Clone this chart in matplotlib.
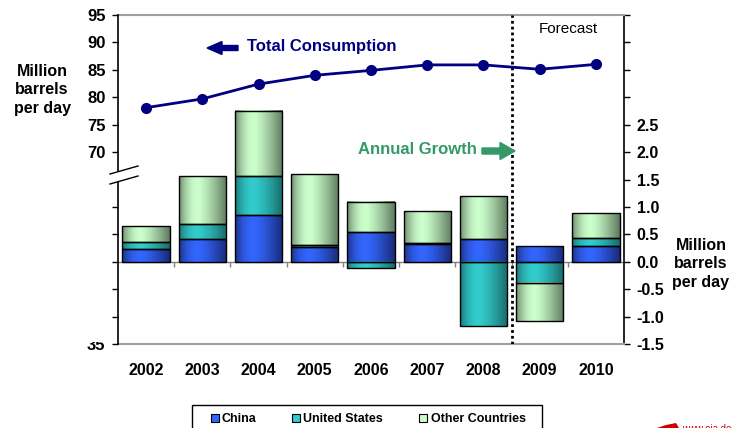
import numpy as np
import matplotlib.pyplot as plt
from matplotlib.patches import Rectangle, FancyArrow, Polygon
from matplotlib.lines import Line2D
from matplotlib.transforms import Affine2D

plt.rcParams['font.family'] = ['Liberation Sans', 'DejaVu Sans']

# data
years = ['2002', '2003', '2004', '2005', '2006', '2007', '2008', '2009', '2010']
consumption = [78.1, 79.7, 82.4, 84.0, 84.9, 85.9, 85.9, 85.1, 86.0]   # million b/d (left axis)
china = [0.24, 0.42, 0.86, 0.26, 0.54, 0.33, 0.41, 0.28, 0.28]         # growth, million b/d (right axis)
us = [0.12, 0.27, 0.70, 0.05, -0.12, 0.02, -1.17, -0.38, 0.15]
other = [0.29, 0.87, 1.19, 1.29, 0.55, 0.57, 0.78, -0.70, 0.45]

names = ['China', 'United States', 'Other Countries']
light = ['#3366FF', '#33CCCC', '#CCFFCC']
dark = ['#1A2A78', '#176B6B', '#5F7A5F']

W, H = 732, 428
fig = plt.figure(figsize=(W / 100, H / 100), dpi=100)
px = Affine2D().scale(1 / W, 1 / H) + fig.transFigure   # pixel coords, origin bottom-left


def fy(y):
    return H - y


ax = fig.add_axes([118 / W, 1 - 344 / H, (624 - 118) / W, (344 - 15) / H])
ax2 = ax.twinx()


def gradient(c_light, c_dark, n=64):
    # cylinder-like shading: dark edges, highlight left of centre
    t = np.linspace(0, 1, n)
    p = np.where(t < 0.4, 1 - 0.85 * ((0.4 - t) / 0.4) ** 2, 1 - ((t - 0.4) / 0.6) ** 1.3)
    lo = np.array(plt.matplotlib.colors.to_rgb(c_dark))
    hi = np.array(plt.matplotlib.colors.to_rgb(c_light))
    return (lo + (hi - lo) * p[:, None])[None, :, :]


# stacked bars (positives up, negatives down like Excel)
x = np.arange(len(years))
width = 0.84
pos_base = np.zeros(len(x))
neg_base = np.zeros(len(x))
for vals, cl, cd in zip([china, us, other], light, dark):
    vals = np.array(vals)
    bottoms = np.where(vals >= 0, pos_base, neg_base)
    grad = gradient(cl, cd)
    for xi, b, v in zip(x, bottoms, vals):
        if v == 0:
            continue
        ax.imshow(grad, extent=[xi - width / 2, xi + width / 2, b, b + v],
                  aspect='auto', interpolation='bilinear', zorder=2)
    ax.bar(x, vals, width, bottom=bottoms, fill=False, edgecolor='black', linewidth=1, zorder=3)
    pos_base += np.where(vals >= 0, vals, 0)
    neg_base += np.where(vals < 0, vals, 0)

ax.axhline(0, color='#808080', lw=1, zorder=1)
ax.vlines(np.arange(0.5, len(x) - 1, 1), -0.09, 0, color='#808080', lw=1, zorder=1)
ax.axvline(6.5, color='black', lw=2, ls=(0, (1, 1.1)), zorder=5)

ax.set_xlim(-0.5, len(x) - 0.5)
ax.set_ylim(-1.5, 4.5)

# consumption line
ax2.plot(x, consumption, color='#000080', lw=2, marker='o', markersize=7, zorder=4)
ax2.set_ylim(35, 95)

# right axis (growth)
ax.yaxis.tick_right()
rticks = np.round(np.arange(-1.5, 4.51, 0.5), 1) + 0.0
ax.set_yticks(rticks, [f'{v:.1f}' if v <= 2.5 else '' for v in rticks])
ax.tick_params(axis='y', direction='out', length=4, width=1, pad=5, labelsize=11.5)
ax.set_xticks(x, years)
ax.tick_params(axis='x', length=0, pad=14, labelsize=11.5)
plt.setp(ax.get_yticklabels() + ax.get_xticklabels(), fontweight='bold')

# left axis (consumption)
lticks = [35, 40, 45, 50, 55, 60, 70, 75, 80, 85, 90, 95]
ax2.yaxis.tick_left()
ax2.set_yticks(lticks, [str(v) if v >= 70 or v == 35 else '' for v in lticks])
ax2.tick_params(axis='y', direction='out', length=4, width=1, pad=5, labelsize=12)
plt.setp(ax2.get_yticklabels(), fontweight='bold')

for s in ['top', 'bottom']:
    ax.spines[s].set_color('#A0A0A0')
    ax.spines[s].set_linewidth(1.5)
ax.spines['left'].set_visible(False)
ax.spines['right'].set_linewidth(1.2)
for s in ['top', 'bottom', 'right']:
    ax2.spines[s].set_visible(False)
ax2.spines['left'].set_linewidth(1.2)

# axis break on the left spine
fig.add_artist(Polygon([(110, fy(174)), (138, fy(166)), (138, fy(176)), (110, fy(184))],
                       closed=True, facecolor='white', edgecolor='none', transform=px, zorder=5))
for y0, y1 in [(174, 166), (184, 176)]:
    fig.add_artist(Line2D([110, 138], [fy(y0), fy(y1)], color='black', lw=1, transform=px, zorder=6))

# partly hidden "35" label
fig.add_artist(Rectangle((78, fy(342)), 34, 18, facecolor='white', edgecolor='none',
                         transform=px, zorder=5))

# axis titles
fig.text(42 / W, 1 - 90 / H, 'Million\nbarrels\nper day', ha='center', va='center',
         fontsize=11.5, fontweight='bold', linespacing=1.3)
fig.text(701 / W, 1 - 264 / H, 'Million\nbarrels\nper day', ha='center', va='center',
         fontsize=11.5, fontweight='bold', linespacing=1.3)

# cut-off title at the very top
fig.text(485 / W, 1 + 2.5 / H, 'World Oil Consumption', ha='right', va='baseline',
         fontsize=12, fontweight='bold')

# annotations
fig.text(247 / W, 1 - 47 / H, 'Total Consumption', ha='left', va='center',
         color='#000080', fontsize=12, fontweight='bold')
fig.add_artist(FancyArrow(238, fy(48), -31, 0, width=5, head_width=13, head_length=15,
                          length_includes_head=True, color='#000080', transform=px))
fig.text(358 / W, 1 - 149 / H, 'Annual Growth', ha='left', va='center',
         color='#339966', fontsize=12, fontweight='bold')
fig.add_artist(FancyArrow(482, fy(151), 33, 0, width=6, head_width=17, head_length=15,
                          length_includes_head=True, color='#339966', transform=px))
fig.text(539 / W, 1 - 29 / H, 'Forecast', ha='left', va='center', fontsize=11)

# legend box (cut by the bottom edge)
fig.add_artist(Rectangle((192, fy(440)), 350, 35, fill=False, edgecolor='black', lw=1, transform=px))
for name, col, xs, xt in zip(names, light, [211, 292, 419], [221, 303, 431]):
    fig.add_artist(Rectangle((xs, fy(422)), 8, 8, facecolor=col, edgecolor='black', lw=0.8, transform=px))
    fig.text(xt / W, 1 - 419 / H, name, ha='left', va='center', fontsize=9, fontweight='bold')

# source logo at bottom right (mostly cut off)
fig.add_artist(Polygon([(657, fy(428)), (666, fy(425)), (676, fy(423)), (679, fy(428))],
                       closed=True, facecolor='#CC0000', edgecolor='none', transform=px))
fig.text(682 / W, 1 - 424 / H, 'www.eia.doe.gov', ha='left', va='top', fontsize=7, color='#CC0000')

fig.savefig('out.png', dpi=100)
